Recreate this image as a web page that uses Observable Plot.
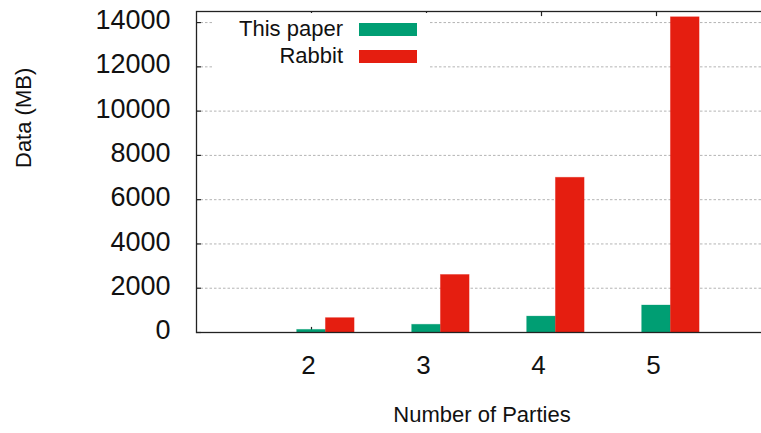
<!DOCTYPE html>
<html>
<head>
<meta charset="utf-8">
<script src="https://cdn.jsdelivr.net/npm/d3@7"></script>
<script src="https://cdn.jsdelivr.net/npm/@observablehq/plot@0.6"></script>
<style>
  html, body { margin: 0; padding: 0; background: #fff; overflow: hidden; }
  #wrap { position: relative; width: 761px; height: 433px; overflow: hidden; }
  #wrap svg { display: block; max-width: none !important; }
  .legend {
    position: absolute; left: 213px; top: 13px; width: 216px; height: 66px;
    background: #fff; font-family: "Liberation Sans", Arial, sans-serif;
    font-size: 22px; color: #111;
  }
  .legend .lab { position: absolute; right: 86px; line-height: 22px; white-space: nowrap; }
  .legend .sw { position: absolute; left: 146px; width: 58px; height: 13px; }
</style>
</head>
<body>
<div id="wrap"></div>
<script>
// Data transferred per number of parties (MB)
const parties = [2, 3, 4, 5];
const thisPaper = [120, 350, 720, 1220];
const rabbit = [650, 2600, 6990, 14240];

const seriesNames = ["This paper", "Rabbit"];
const seriesColors = ["#009e73", "#e51e10"];
const yTicks = [0, 2000, 4000, 6000, 8000, 10000, 12000, 14000];

const xDomain = [1, 6];
const yDomain = [0, 14500];
const barWidth = 0.25;

// long table: one row per bar
const rows = [];
parties.forEach((p, i) => {
  rows.push({parties: p, series: seriesNames[0], slot: 0, value: thisPaper[i]});
  rows.push({parties: p, series: seriesNames[1], slot: 1, value: rabbit[i]});
});

const font = "'Liberation Sans', Arial, sans-serif";

const chart = Plot.plot({
  width: 772,
  height: 433,
  marginLeft: 196,
  marginRight: 1,
  marginTop: 11,
  marginBottom: 101,
  style: {fontFamily: font, color: "#111", background: "#fff", maxWidth: "none"},
  x: {type: "linear", domain: xDomain},
  y: {domain: yDomain},
  color: {domain: seriesNames, range: seriesColors},
  marks: [
    // dotted horizontal grid
    Plot.ruleY(yTicks.filter(v => v > 0), {stroke: "#b4b4b4", strokeWidth: 1, strokeDasharray: "2.5,2"}),
    // inward ticks: left axis, bottom and mirrored top
    Plot.ruleY(yTicks, {x1: xDomain[0], x2: xDomain[0] + 0.043, stroke: "#222", strokeWidth: 1.2}),
    Plot.ruleX(parties, {y1: 0, y2: 230, stroke: "#222", strokeWidth: 1.2}),
    Plot.ruleX(parties, {y1: yDomain[1], y2: yDomain[1] - 230, stroke: "#222", strokeWidth: 1.2}),
    // clustered bars
    Plot.rectY(rows, {
      x1: d => d.parties - barWidth / 2 + d.slot * barWidth,
      x2: d => d.parties + barWidth / 2 + d.slot * barWidth,
      y: "value",
      fill: "series",
      stroke: "series",
      strokeOpacity: 0.35,
      strokeWidth: 0.8
    }),
    Plot.frame({stroke: "#222", strokeWidth: 1.3}),
    Plot.axisY(yTicks, {tickSize: 0, tickPadding: 26, fontSize: 27, dy: -2, tickFormat: d => String(d), label: null}),
    Plot.axisX(parties, {tickSize: 0, tickPadding: 23, fontSize: 26, dx: -3, tickFormat: d => String(d), label: null}),
    Plot.text(["Data (MB)"], {frameAnchor: "left", rotate: -90, dx: -173, dy: -4, fontSize: 22, fill: "#111"}),
    Plot.text(["Number of Parties"], {frameAnchor: "bottom", dx: -2, dy: 89, fontSize: 22, fill: "#111"})
  ]
});

const wrap = document.getElementById("wrap");
wrap.appendChild(chart);

// key box in the upper left corner of the plot
const legend = document.createElement("div");
legend.className = "legend";
seriesNames.forEach((name, i) => {
  const cy = 16 + i * 27;
  const lab = document.createElement("div");
  lab.className = "lab";
  lab.textContent = name;
  lab.style.top = (cy - 11) + "px";
  legend.appendChild(lab);
  const sw = document.createElement("div");
  sw.className = "sw";
  sw.style.top = (cy - 6.5) + "px";
  sw.style.background = seriesColors[i];
  legend.appendChild(sw);
});
wrap.appendChild(legend);
</script>
</body>
</html>
